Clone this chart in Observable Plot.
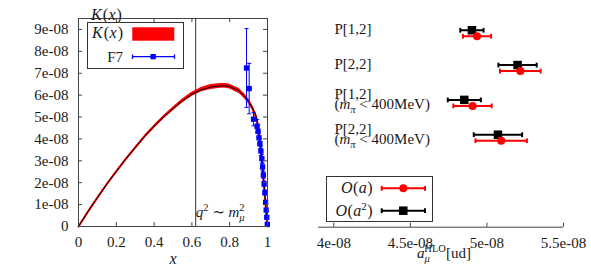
<!DOCTYPE html>
<html><head><meta charset="utf-8">
<script src="https://cdn.jsdelivr.net/npm/d3@7"></script>
<script src="https://cdn.jsdelivr.net/npm/@observablehq/plot@0.6"></script>
<style>
body{margin:0;background:#fff;}
#wrap{display:flex;width:591px;height:276px;overflow:hidden;}
svg{display:block;overflow:visible}
svg text, svg tspan{font-family:'Liberation Serif','DejaVu Serif',serif !important;}
</style></head><body><div id="wrap"></div>
<script>
// ---------- left panel data (values in units of 1e-8) ----------
const xTicksL = [0, 0.2, 0.4, 0.6, 0.8, 1];
const xTickLabelsL = ["0", "0.2", "0.4", "0.6", "0.8", "1"];
const yTicksL = [0, 1, 2, 3, 4, 5, 6, 7, 8, 9];
const yTickLabelsL = ["0", "1e-08", "2e-08", "3e-08", "4e-08", "5e-08", "6e-08", "7e-08", "8e-08", "9e-08"];
const kx = [0, 0.05, 0.1, 0.15, 0.2, 0.25, 0.3, 0.35, 0.4, 0.45, 0.5, 0.55, 0.6, 0.65, 0.7, 0.75, 0.78, 0.8, 0.85, 0.875, 0.9, 0.92, 0.94, 0.95, 0.96, 0.97, 0.98, 0.99, 1.0];
const ky = [0, 0.68, 1.32, 1.94, 2.52, 3.08, 3.6, 4.12, 4.58, 5.0, 5.38, 5.74, 6.04, 6.25, 6.37, 6.42, 6.42, 6.39, 6.19, 5.98, 5.72, 5.42, 5.02, 4.6, 4.0, 3.1, 2.05, 1.0, 0];
const kerr = [0, 0.005, 0.01, 0.015, 0.02, 0.025, 0.03, 0.04, 0.05, 0.06, 0.07, 0.08, 0.09, 0.1, 0.11, 0.11, 0.11, 0.11, 0.11, 0.11, 0.11, 0.11, 0.11, 0.11, 0.11, 0.1, 0.09, 0.07, 0.05];
const f7x = [0.889, 0.903, 0.926, 0.945, 0.95, 0.955, 0.96, 0.965, 0.97, 0.974, 0.978, 0.982, 0.986, 0.99, 0.993, 0.996, 0.999];
const f7y = [7.24, 6.3, 4.9, 4.58, 4.35, 4.05, 3.78, 3.45, 3.1, 2.72, 2.35, 1.95, 1.55, 1.1, 0.75, 0.42, 0.1];
const f7err = [1.8, 1.15, 0.3, 0.3, 0.3, 0.28, 0.25, 0.22, 0.2, 0.18, 0.15, 0.13, 0.11, 0.09, 0.07, 0.05, 0.03];
const markerX = [0.62];

// ---------- right panel data (values in units of 1e-8) ----------
const rowLabels = ["P[1,2]", "P[2,2]", "P[1,2]\n@mpi", "P[2,2]\n@mpi"];
const rows = [1, 2, 3, 4];
const oaVal = [4.935, 5.218, 4.906, 5.093];
const oaErr = [0.092, 0.133, 0.125, 0.168];
const oa2Val = [4.902, 5.200, 4.852, 5.072];
const oa2Err = [0.076, 0.125, 0.108, 0.158];
const xTicksR = [4, 4.5, 5, 5.5];
const xTickLabelsR = ["4e-08", "4.5e-08", "5e-08", "5.5e-08"];

const RED = "#ff0000", BLUE = "#0000ff", AX = "#444";
const FS = 15;
const font = {fontFamily: "'Liberation Serif', 'DejaVu Serif', serif", fontSize: FS + "px", color: "#1a1a1a", background: "white"};

const vbar = {draw(ctx, size) { const h = Math.sqrt(size) / 2; ctx.moveTo(0, -h); ctx.lineTo(0, h); }};
const hbar = {draw(ctx, size) { const w = Math.sqrt(size) / 2; ctx.moveTo(-w, 0); ctx.lineTo(w, 0); }};

const kData = kx.map((x, i) => ({x, y: ky[i], lo: ky[i] - kerr[i], hi: ky[i] + kerr[i]}));
const f7Data = f7x.map((x, i) => ({x, y: f7y[i], lo: f7y[i] - f7err[i], hi: f7y[i] + f7err[i]}));

// ---------- left plot ----------
const WL = 290, HL = 276, mL = {l: 78, r: 23, t: 18, b: 50};
const innerWL = WL - mL.l - mL.r, innerHL = HL - mL.t - mL.b;
const left = Plot.plot({
  width: WL, height: HL,
  marginLeft: mL.l, marginRight: mL.r, marginTop: mL.t, marginBottom: mL.b,
  style: font,
  x: {domain: [0, 1]},
  y: {domain: [0, 9.5]},
  marks: [
    Plot.ruleX(markerX, {stroke: "#333", strokeWidth: 1}),
    Plot.areaY(kData, {x: "x", y1: "lo", y2: "hi", fill: RED}),
    Plot.line(kData, {x: "x", y: "y", stroke: RED, strokeWidth: 2}),
    Plot.line(kData, {x: "x", y: "y", stroke: "#000", strokeWidth: 1}),
    Plot.ruleX(f7Data, {x: "x", y1: "lo", y2: "hi", stroke: BLUE, strokeWidth: 1}),
    Plot.dot(f7Data, {x: "x", y: "lo", symbol: hbar, r: 2.3, stroke: BLUE, fill: "none", strokeWidth: 1}),
    Plot.dot(f7Data, {x: "x", y: "hi", symbol: hbar, r: 2.3, stroke: BLUE, fill: "none", strokeWidth: 1}),
    Plot.dot(f7Data, {x: "x", y: "y", symbol: "square", r: 3, fill: BLUE, stroke: "none"}),
    Plot.frame({stroke: AX}),
    Plot.ruleX(xTicksL, {stroke: AX, insetTop: innerHL - 4}),
    Plot.ruleX(xTicksL, {stroke: AX, insetBottom: innerHL - 4}),
    Plot.ruleY(yTicksL, {stroke: AX, insetRight: innerWL - 4}),
    Plot.ruleY(yTicksL, {stroke: AX, insetLeft: innerWL - 4}),
    Plot.axisX(xTicksL, {tickSize: 0, tickPadding: 10, label: null, tickFormat: d => xTickLabelsL[xTicksL.indexOf(d)]}),
    Plot.axisY(yTicksL, {tickSize: 0, tickPadding: 10, label: null, tickFormat: d => yTickLabelsL[yTicksL.indexOf(d)]}),
    Plot.text(["@K"], {frameAnchor: "top-left", dx: 12.5, dy: -10}),
    Plot.text(["x"], {frameAnchor: "bottom", dy: 37, fontStyle: "italic", fontSize: 16}),
    Plot.text(markerX, {x: d => d, frameAnchor: "bottom", textAnchor: "start", text: () => "@q", dy: -9.4})
  ]
});

// ---------- right plot ----------
const WR = 301, HR = 276, mR = {l: 28, r: 28, t: 15, b: 49.3};
const yDomR = [0.49, 6.57];
const innerHR = HR - mR.t - mR.b;
const oaData = rows.map((r, i) => ({row: r, v: oaVal[i], lo: oaVal[i] - oaErr[i], hi: oaVal[i] + oaErr[i]}));
const oa2Data = rows.map((r, i) => ({row: r, v: oa2Val[i], lo: oa2Val[i] - oa2Err[i], hi: oa2Val[i] + oa2Err[i]}));
function errMarks(data, color, dy, symbolMark) {
  return [
    Plot.ruleY(data, {y: "row", x1: "lo", x2: "hi", dy, stroke: color, strokeWidth: 2}),
    Plot.dot(data, {x: "lo", y: "row", dy, symbol: vbar, r: 2.7, stroke: color, strokeWidth: 2, fill: "none"}),
    Plot.dot(data, {x: "hi", y: "row", dy, symbol: vbar, r: 2.7, stroke: color, strokeWidth: 2, fill: "none"}),
    symbolMark
  ];
}
const right = Plot.plot({
  width: WR, height: HR,
  marginLeft: mR.l, marginRight: mR.r, marginTop: mR.t, marginBottom: mR.b,
  style: font,
  x: {domain: [3.9, 5.5]},
  y: {domain: yDomR, reverse: true, axis: null},
  marks: [
    Plot.ruleY([yDomR[1]], {stroke: AX}),
    Plot.ruleX(xTicksR, {stroke: AX, insetTop: innerHR - 4}),
    Plot.axisX(xTicksR, {tickSize: 0, tickPadding: 10, label: null, tickFormat: d => xTickLabelsR[xTicksR.indexOf(d)]}),
    Plot.text(rowLabels, {y: (d, i) => rows[i], frameAnchor: "left", textAnchor: "start", dx: 16, dy: -2, lineHeight: 0.64}),
    ...errMarks(oa2Data, "#000", -3, Plot.dot(oa2Data, {x: "v", y: "row", dy: -3, symbol: "square", r: 4.8, fill: "#000", stroke: "none"})),
    ...errMarks(oaData, RED, 3, Plot.dot(oaData, {x: "v", y: "row", dy: 3, r: 4, fill: RED, stroke: "none"})),
    Plot.text(["@a"], {frameAnchor: "bottom", dx: 3, dy: 31})
  ]
});

const wrap = document.getElementById("wrap");
wrap.appendChild(left);
wrap.appendChild(right);

// ---------- legends ----------
function legendLeft(svg) {
  const g = d3.select(svg).append("g");
  g.append("rect").attr("x", 87.5).attr("y", 22.5).attr("width", 96).attr("height", 46).attr("fill", "white").attr("stroke", "#333");
  g.append("text").attr("x", 123).attr("y", 38.3).attr("text-anchor", "end").text("@K");
  g.append("text").attr("x", 123).attr("y", 61.7).attr("text-anchor", "end").text("F7");
  g.append("rect").attr("x", 132.3).attr("y", 27.3).attr("width", 42).attr("height", 13.4).attr("fill", RED);
  g.append("line").attr("x1", 132.5).attr("x2", 174.5).attr("y1", 56.7).attr("y2", 56.7).attr("stroke", BLUE).attr("stroke-width", 1.3);
  for (const x of [132.5, 174.5]) g.append("line").attr("x1", x).attr("x2", x).attr("y1", 54.5).attr("y2", 58.9).attr("stroke", BLUE).attr("stroke-width", 1.3);
  g.append("rect").attr("x", 150.5).attr("y", 54).attr("width", 5.3).attr("height", 5.3).attr("fill", BLUE);
}
function legendRight(svg) {
  const g = d3.select(svg).append("g");
  g.append("rect").attr("x", 36.5).attr("y", 176.5).attr("width", 106).attr("height", 45).attr("fill", "white").attr("stroke", "#333");
  g.append("text").attr("x", 82.7).attr("y", 193.2).attr("text-anchor", "end").text("@Oa");
  g.append("text").attr("x", 82.7).attr("y", 215.6).attr("text-anchor", "end").text("@Oa2");
  const items = [[188.3, RED], [210.7, "#000"]];
  for (const [y, c] of items) {
    g.append("line").attr("x1", 91.7).attr("x2", 135).attr("y1", y).attr("y2", y).attr("stroke", c).attr("stroke-width", 2);
    for (const x of [91.7, 135]) g.append("line").attr("x1", x).attr("x2", x).attr("y1", y - 2.4).attr("y2", y + 2.4).attr("stroke", c).attr("stroke-width", 2);
  }
  g.append("circle").attr("cx", 113.3).attr("cy", 188.3).attr("r", 4).attr("fill", RED);
  g.append("rect").attr("x", 113.3 - 4.25).attr("y", 210.7 - 4.25).attr("width", 8.5).attr("height", 8.5).attr("fill", "#000");
}
legendLeft(left);
legendRight(right);

// ---------- rich (math) text ----------
const richMap = {
  "@K": [{t: "K", i: 1}, {t: "(", dx: 1}, {t: "x", i: 1, dx: 0.5}, {t: ")", dx: 1}],
  "@q": [{t: "q", i: 1}, {t: "2", s: "sup"}, {t: " ∼ "}, {t: "m", i: 1}, {t: "μ", i: 1, s: "sub"}, {t: "2", s: "sup", dx: -5.5}],
  "@mpi": [{t: "("}, {t: "m", i: 1}, {t: "π", i: 1, s: "sub"}, {t: " < 400MeV)"}],
  "@a": [{t: "a", i: 1}, {t: "μ", i: 1, s: "sub"}, {t: "HLO", s: "sup", dx: -5.5}, {t: "[ud]"}],
  "@Oa": [{t: "O", i: 1}, {t: "(", dx: 0.5}, {t: "a", i: 1, dx: 0.5}, {t: ")", dx: 0.5}],
  "@Oa2": [{t: "O", i: 1}, {t: "(", dx: 0.5}, {t: "a", i: 1, dx: 0.5}, {t: "2", s: "sup"}, {t: ")", dx: 0.5}]
};
const richSize = {"@K": 16, "@Oa": 16, "@Oa2": 16};
function fillRich(el, parts, size) {
  el.textContent = "";
  if (size) el.setAttribute("font-size", size);
  const fs = size || FS;
  let shift = 0;
  for (const p of parts) {
    const ts = document.createElementNS("http://www.w3.org/2000/svg", "tspan");
    const target = p.s === "sub" ? 4 : p.s === "sup" ? -6 : 0;
    if (target !== shift) ts.setAttribute("dy", target - shift);
    shift = target;
    if (p.dx) ts.setAttribute("dx", p.dx);
    if (p.i) ts.setAttribute("font-style", "italic");
    if (p.s) ts.setAttribute("font-size", fs * 0.7);
    ts.textContent = p.t;
    el.appendChild(ts);
  }
}
for (const svg of [left, right]) {
  svg.querySelectorAll("text, tspan").forEach(el => {
    const key = el.textContent;
    if (el.childElementCount === 0 && richMap[key]) fillRich(el, richMap[key], richSize[key]);
  });
}
</script></body></html>
